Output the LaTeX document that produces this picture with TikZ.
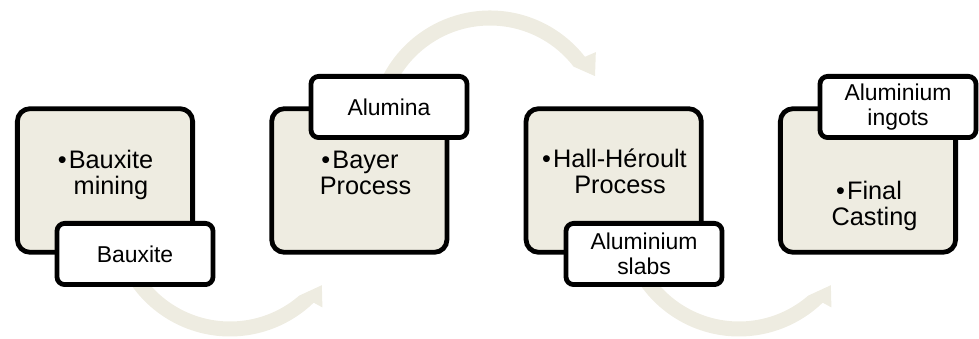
\documentclass[tikz,border=0pt]{standalone}
\usepackage{fontspec}
\setmainfont{Liberation Sans}
\definecolor{sandfill}{HTML}{EEECE1}
\newcommand{\dotitem}{\llap{•\kern1.5pt}}

\begin{document}
\begin{tikzpicture}[x=0.025cm, y=-0.025cm,
  stage/.style={draw, line width=3.4pt, rounded corners=9pt, fill=sandfill,
    minimum width=4.38cm, minimum height=3.59cm},
  tab/.style={draw, line width=3.4pt, rounded corners=5.5pt, fill=white,
    minimum width=3.9cm, minimum height=1.53cm, align=center, inner sep=0pt,
    font=\fontsize{16.3}{17.7}\selectfont},
  stagetext/.style={align=center, inner sep=0pt, font=\fontsize{18}{18.4}\selectfont},
  flow/.style={fill=sandfill}]
\useasboundingbox (0,0) rectangle (979,339);
% curved arrows first, the boxes lie on top of them
\coordinate (c1) at (230,216);
\coordinate (c2) at (490,131);
\coordinate (c3) at (739,216);
\fill[flow, shift={(c1)}] (150:120.5) arc[start angle=150, end angle=46, radius=120.5]
  -- (44.7:130) -- (37:115) -- (49:105.5) arc[start angle=49, end angle=150, radius=105.5] -- cycle;
\fill[flow, shift={(c2)}] (200:120.5) arc[start angle=200, end angle=322, radius=120.5]
  -- (323.3:132) -- (332.4:118.5) -- (322.4:105.5) arc[start angle=322.4, end angle=200, radius=105.5] -- cycle;
\fill[flow, shift={(c3)}] (150:120.5) arc[start angle=150, end angle=46, radius=120.5]
  -- (44.7:130) -- (37:115) -- (49:105.5) arc[start angle=49, end angle=150, radius=105.5] -- cycle;
% the four stages
\foreach \i in {1,...,4} \node[stage] (stage\i) at ({105+254.33*(\i-1)},180.5) {};
\node[stagetext] (mining) at (111,174.7) {\dotitem Bauxite\\mining};
\node[stagetext] (bayer) at (365.5,172.5) {\dotitem Bayer\\Process};
\node[stagetext] (hall) at (620,171.5) {\dotitem Hall-Héroult\\Process};
\node[stagetext] (casting) at (874.5,205.7) {\dotitem Final\\Casting};
% products
\node[tab] (ore) at (135,254) {Bauxite};
\node[tab] (alumina) at (389,107) {Alumina};
\node[tab] (slabs) at (644,254) {Aluminium\\slabs};
\node[tab] (ingots) at (898,107) {Aluminium\\ingots};
\end{tikzpicture}
\end{document}
